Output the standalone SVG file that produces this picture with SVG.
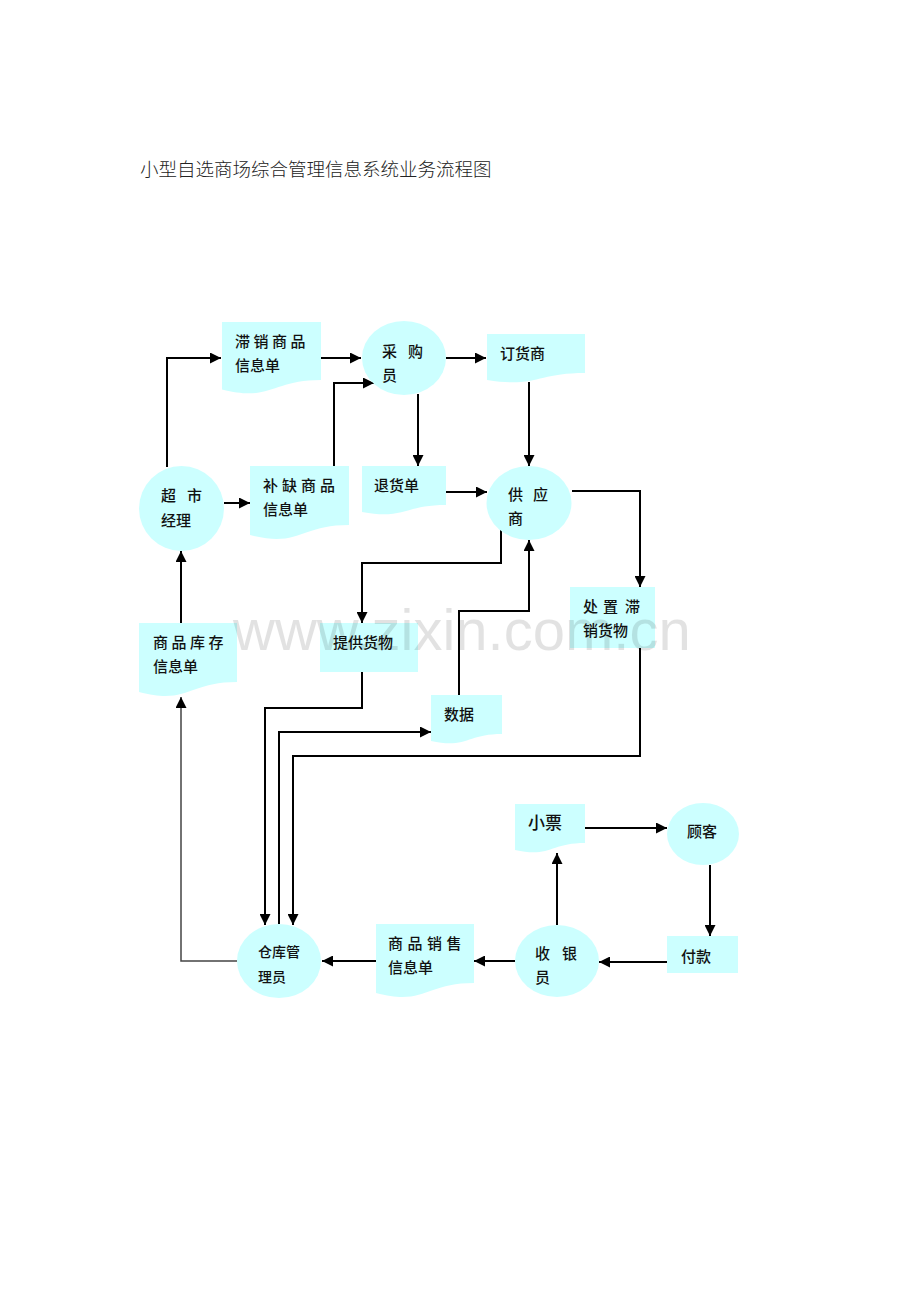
<svg xmlns="http://www.w3.org/2000/svg" width="920" height="1302" viewBox="0 0 920 1302">
<style>
.sh{fill:#ccffff;stroke:none}
.t{font-family:"Noto Sans CJK SC","Noto Sans",sans-serif;font-size:15px;font-weight:500;fill:#111}
.ts{font-size:14px}
.tl{font-size:17px}
.title{font-family:"Noto Sans CJK SC",sans-serif;font-size:18.5px;fill:#222;font-weight:300}
.c{fill:none;stroke:#000;stroke-width:2}
.thin{stroke:#444;stroke-width:1.5}
.wm{font-family:"Liberation Sans",Arial,sans-serif;font-size:58px;fill:#000;opacity:0.11}
</style>
<defs>
<marker id="a" viewBox="0 0 10 10" refX="10" refY="5" markerWidth="11" markerHeight="11" orient="auto" markerUnits="userSpaceOnUse">
<path d="M0,0 L10,5 L0,10 Z" fill="#000"/>
</marker>
</defs>
<rect width="920" height="1302" fill="#fff"/>
<text class="title" x="140" y="176">小型自选商场综合管理信息系统业务流程图</text>

<g id="connectors">
<path class="c" d="M167,467 V358 H221" marker-end="url(#a)"/>
<path class="c" d="M321,358 H361" marker-end="url(#a)"/>
<path class="c" d="M446,358 H486" marker-end="url(#a)"/>
<path class="c" d="M334,466 V383 H374" marker-end="url(#a)"/>
<path class="c" d="M418,394 V466" marker-end="url(#a)"/>
<path class="c" d="M529,382 V466" marker-end="url(#a)"/>
<path class="c" d="M224,503 H250" marker-end="url(#a)"/>
<path class="c" d="M446,492 H487" marker-end="url(#a)"/>
<path class="c" d="M572,491 H640 V587" marker-end="url(#a)"/>
<path class="c" d="M501,530 V563 H362 V623" marker-end="url(#a)"/>
<path class="c" d="M459,695 V611 H529 V540" marker-end="url(#a)"/>
<path class="c" d="M362,672 V708 H265 V925" marker-end="url(#a)"/>
<path class="c" d="M279,924 V732 H431" marker-end="url(#a)"/>
<path class="c" d="M640,648 V756 H293 V925" marker-end="url(#a)"/>
<path class="c thin" d="M237,961 H181 V697" marker-end="url(#a)"/>
<path class="c" d="M181,623 V551" marker-end="url(#a)"/>
<path class="c" d="M376,961 H322" marker-end="url(#a)"/>
<path class="c" d="M515,961 H474" marker-end="url(#a)"/>
<path class="c" d="M667,962 H599" marker-end="url(#a)"/>
<path class="c" d="M557,925 V853" marker-end="url(#a)"/>
<path class="c" d="M585,828 H667" marker-end="url(#a)"/>
<path class="c" d="M710,865 V936" marker-end="url(#a)"/>
</g>

<g id="zhixiao">
<path class="sh" d="M222,322 H321 V380 C271.5,380 271.5,402 222,389.5 Z"/>
<text class="t" x="235 253.5 272 290.5" y="347">滞销商品</text>
<text class="t" x="235" y="371">信息单</text>
</g>
<g id="caigou">
<ellipse class="sh" cx="404" cy="358" rx="42" ry="37"/>
<text class="t" x="382 397 408" y="357">采 购</text>
<text class="t" x="382" y="381">员</text>
</g>
<g id="dinghuoshang">
<path class="sh" d="M487,334 H585 V373 C536,373 536,388 487,380 Z"/>
<text class="t" x="500" y="359">订货商</text>
</g>
<g id="chaoshi">
<circle class="sh" cx="181.5" cy="508.5" r="42.5"/>
<text class="t" x="161 176 187" y="501">超 市</text>
<text class="t" x="161" y="526">经理</text>
</g>
<g id="buque">
<path class="sh" d="M250,466 H349 V525 C299.5,525 299.5,548 250,535 Z"/>
<text class="t" x="263 282 301 320" y="491">补缺商品</text>
<text class="t" x="263" y="515">信息单</text>
</g>
<g id="tuihuo">
<path class="sh" d="M362,466 H446 V505 C404,505 404,520 362,512 Z"/>
<text class="t" x="374" y="491">退货单</text>
</g>
<g id="gongying">
<ellipse class="sh" cx="529" cy="503" rx="42.5" ry="37"/>
<text class="t" x="508 523 533" y="500">供 应</text>
<text class="t" x="508" y="524">商</text>
</g>
<g id="kucun">
<path class="sh" d="M139,623 H237 V682 C188,682 188,705 139,692 Z"/>
<text class="t" x="153 171.5 190 208.5" y="648">商品库存</text>
<text class="t" x="153" y="672">信息单</text>
</g>
<g id="tigong">
<rect class="sh" x="320" y="623" width="98" height="49"/>
<text class="t" x="333" y="648">提供货物</text>
</g>
<g id="chuzhi">
<rect class="sh" x="570" y="587" width="85" height="61"/>
<text class="t" x="583 598 603 618 625" y="612">处 置 滞</text>
<text class="t" x="583" y="636">销货物</text>
</g>
<g id="shuju">
<path class="sh" d="M431,695 H502 V734 C466.5,734 466.5,749 431,741 Z"/>
<text class="t" x="444" y="720">数据</text>
</g>
<g id="cangku">
<ellipse class="sh" cx="279" cy="961" rx="42" ry="37"/>
<text class="t ts" x="258" y="957">仓库管</text>
<text class="t ts" x="258" y="982">理员</text>
</g>
<g id="xiaoshou">
<path class="sh" d="M376,924 H474 V983 C425,983 425,1006 376,993 Z"/>
<text class="t" x="388 407.5 427 446.5" y="949">商品销售</text>
<text class="t" x="388" y="973">信息单</text>
</g>
<g id="shouyin">
<ellipse class="sh" cx="557" cy="961" rx="42" ry="36"/>
<text class="t" x="535 550 562" y="959">收 银</text>
<text class="t" x="535" y="983">员</text>
</g>
<g id="xiaopiao">
<path class="sh" d="M515,804 H585 V843 C550,843 550,858 515,850 Z"/>
<text class="t tl" x="528" y="829">小票</text>
</g>
<g id="guke">
<ellipse class="sh" cx="703" cy="834" rx="36" ry="31"/>
<text class="t" x="687" y="837">顾客</text>
</g>
<g id="fukuan">
<rect class="sh" x="667" y="936" width="71" height="37"/>
<text class="t" x="681" y="962">付款</text>
</g>
<text class="wm" x="233" y="650">www.zixin.com.cn</text>
</svg>
